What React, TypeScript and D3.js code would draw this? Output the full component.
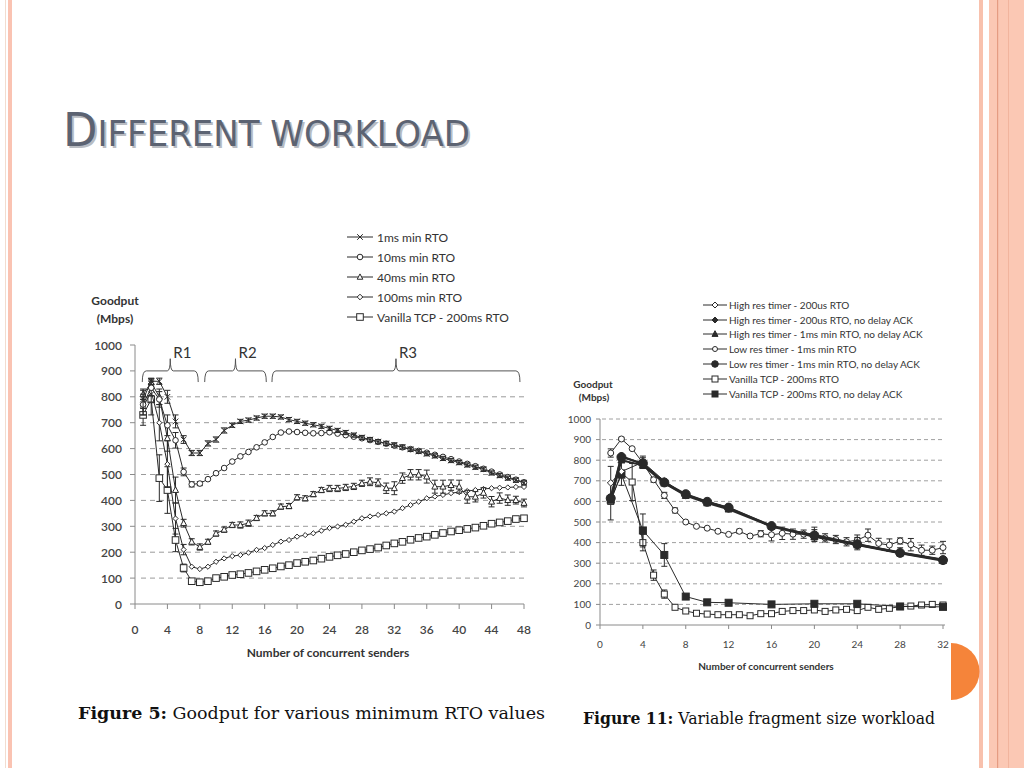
import React from "react";
import * as d3 from "d3";

// ---------------- Figure 5 (left) data ----------------
const fig5Senders = [1,2,3,4,5,6,7,8,9,10,11,12,13,14,15,16,17,18,19,20,21,22,23,24,25,26,27,28,29,30,31,32,33,34,35,36,37,38,39,40,41,42,43,44,45,46,47,48];
const fig5XTicks = [0,4,8,12,16,20,24,28,32,36,40,44,48];
const fig5YTicks = [0,100,200,300,400,500,600,700,800,900,1000];
const fig5Grid = [100,200,300,400,500,600,700,800];

const fig5Rto1ms = [790,860,860,800,705,635,583,583,620,635,670,690,705,710,718,725,725,722,712,705,698,692,686,678,670,662,652,643,635,627,620,614,606,597,589,580,572,562,554,546,537,528,520,506,496,486,478,468];
const fig5Rto10ms = [770,835,790,690,632,510,462,465,482,505,525,550,570,587,605,624,645,662,666,664,661,659,660,663,658,652,646,640,633,626,619,612,605,598,591,584,576,568,559,550,541,532,522,511,500,490,480,470];
const fig5Rto40ms = [810,855,800,640,440,312,240,220,240,272,287,305,305,312,332,350,350,376,378,412,408,424,440,446,446,450,454,466,472,468,447,447,486,499,499,492,453,453,459,453,414,414,429,395,409,401,401,390];
const fig5Rto100ms = [760,820,700,540,330,210,144,135,144,163,176,185,189,198,209,216,228,241,247,260,266,273,283,293,299,306,318,331,338,344,350,357,370,382,395,408,415,421,428,432,436,440,444,447,449,450,452,452];
const fig5Vanilla = [730,790,486,440,247,139,88,84,88,100,105,112,115,120,126,132,138,145,150,158,163,168,175,182,188,193,200,207,212,218,226,234,240,248,255,260,267,274,280,285,290,295,302,310,315,320,328,331];

const fig5Err1ms = [35,12,12,25,25,15,10,10,10,10,10,8,8,8,8,8,8,8,8,8,8,8,8,8,8,8,8,8,8,8,8,8,8,8,8,8,8,8,8,8,8,8,8,8,8,8,8,8];
const fig5Err40ms = [20,15,30,50,50,15,12,12,10,10,10,10,12,12,10,10,10,10,10,10,10,10,10,12,12,12,12,12,15,15,20,25,20,20,20,25,25,25,20,25,25,20,20,20,20,20,15,15];
const fig5Err10ms: [number, number][] = [[1,40],[2,30],[3,30],[4,40],[5,30],[6,15],[7,10],[8,8]];
const fig5Err100ms: [number, number][] = [[1,30],[2,40],[3,70],[4,90],[5,60],[6,20]];
const fig5ErrVanilla: [number, number][] = [[1,40],[2,60],[3,90],[4,90],[5,45],[6,15]];

const fig5Labels = ["1ms min RTO", "10ms min RTO", "40ms min RTO", "100ms min RTO", "Vanilla TCP - 200ms RTO"];
const fig5Regions = ["R1", "R2", "R3"];
const fig5RegionSpans: [number, number][] = [[0.9, 7.8], [8.6, 16.2], [16.9, 47.5]];

// ---------------- Figure 11 (right) data ----------------
const fig11SparseSenders = [1,2,4,6,8,10,12,16,20,24,28,32];
const fig11Senders = [1,2,3,4,5,6,7,8,9,10,11,12,13,14,15,16,17,18,19,20,21,22,23,24,25,26,27,28,29,30,31,32];
const fig11XTicks = [0,4,8,12,16,20,24,28,32];
const fig11YTicks = [0,100,200,300,400,500,600,700,800,900,1000];

const fig11HiRes200 = [690,745,790,700,630,600,570,475,440,395,355,320];
const fig11HiRes200NoDelay = [620,820,780,690,632,597,567,482,432,390,352,315];
const fig11HiRes1msNoDelay = [605,800,775,688,628,592,562,478,428,388,348,312];
const fig11LowRes1ms = [835,903,856,787,705,629,556,500,479,470,455,440,455,432,443,438,445,441,441,438,423,415,404,412,436,396,388,408,390,363,363,376];
const fig11LowRes1msNoDelay = [615,815,785,692,635,598,570,480,435,392,350,315];
const fig11Vanilla = [600,738,694,400,242,150,86,68,57,53,50,50,50,45,55,55,66,70,70,73,66,73,76,70,86,76,81,89,92,97,100,97];
const fig11VanillaNoDelay = [610,730,459,340,138,110,108,100,103,103,90,88];

const fig11ErrLowRes: [number, number][] = [[1,20],[2,8],[4,25],[5,12],[6,15],[7,12],[13,10],[15,15],[16,30],[17,30],[18,25],[19,20],[20,25],[21,20],[22,20],[23,20],[24,25],[25,30],[26,25],[27,30],[28,15],[29,30],[30,25],[31,20],[32,30]];
const fig11ErrVanilla: [number, number][] = [[1,90],[2,60],[3,90],[4,40],[5,25],[6,20]];
const fig11ErrVanillaND: [number, number][] = [[4,80],[6,55]];
const fig11ErrHiRes200: [number, number][] = [[1,80],[4,30],[20,35],[24,30],[28,20]];

const fig11Labels = [
  "High res timer - 200us RTO",
  "High res timer - 200us RTO, no delay ACK",
  "High res timer - 1ms min RTO, no delay ACK",
  "Low res timer - 1ms min RTO",
  "Low res timer - 1ms min RTO, no delay ACK",
  "Vanilla TCP - 200ms RTO",
  "Vanilla TCP - 200ms RTO, no delay ACK",
];

const INK = "#2a2a2a";
const FONT = "Lato, 'Open Sans', sans-serif";

type Shape = "x" | "circle" | "triangle" | "diamond" | "square";

function Marker({ shape, cx, cy, s, filled }: { shape: Shape; cx: number; cy: number; s: number; filled?: boolean }) {
  const fill = filled ? INK : "#fff";
  const sw = 1;
  switch (shape) {
    case "x":
      return <path d={`M${cx - s},${cy - s}L${cx + s},${cy + s}M${cx - s},${cy + s}L${cx + s},${cy - s}`} stroke={INK} strokeWidth={sw} fill="none" />;
    case "circle":
      return <circle cx={cx} cy={cy} r={s} fill={fill} stroke={INK} strokeWidth={sw} />;
    case "triangle":
      return <path d={`M${cx},${cy - s * 1.1}L${cx + s},${cy + s * 0.8}L${cx - s},${cy + s * 0.8}Z`} fill={fill} stroke={INK} strokeWidth={sw} />;
    case "diamond":
      return <path d={`M${cx},${cy - s}L${cx + s},${cy}L${cx},${cy + s}L${cx - s},${cy}Z`} fill={fill} stroke={INK} strokeWidth={sw} />;
    case "square":
    default:
      return <rect x={cx - s} y={cy - s} width={2 * s} height={2 * s} fill={fill} stroke={INK} strokeWidth={sw} />;
  }
}

function ErrBar({ x, y1, y2, w }: { x: number; y1: number; y2: number; w: number }) {
  return (
    <path d={`M${x},${y1}L${x},${y2}M${x - w},${y1}L${x + w},${y1}M${x - w},${y2}L${x + w},${y2}`} stroke={INK} strokeWidth={1} fill="none" />
  );
}

function Figure5() {
  const x = d3.scaleLinear().domain([0, 48]).range([135, 524]);
  const y = d3.scaleLinear().domain([0, 1000]).range([604, 345]);
  const series: { vals: number[]; shape: Shape; size: number; err: [number, number][] }[] = [
    { vals: fig5Vanilla, shape: "square", size: 3.3, err: fig5ErrVanilla },
    { vals: fig5Rto100ms, shape: "diamond", size: 2.6, err: fig5Err100ms },
    { vals: fig5Rto40ms, shape: "triangle", size: 3, err: fig5Err40ms.map((e, i) => [fig5Senders[i], e] as [number, number]) },
    { vals: fig5Rto10ms, shape: "circle", size: 2.8, err: fig5Err10ms },
    { vals: fig5Rto1ms, shape: "x", size: 2.8, err: fig5Err1ms.map((e, i) => [fig5Senders[i], e] as [number, number]) },
  ];
  const legendShapes: Shape[] = ["x", "circle", "triangle", "diamond", "square"];
  const line = d3.line<number>().x((_, i) => x(fig5Senders[i])).y((v) => y(v));
  const yTop = y(900);
  const yEnd = y(857);
  const yPeak = y(947);
  return (
    <g fontFamily={FONT}>
      {/* legend */}
      {fig5Labels.map((lab, i) => {
        const cy = 237 + i * 20;
        return (
          <g key={lab}>
            <line x1={347} x2={373} y1={cy} y2={cy} stroke={INK} />
            <Marker shape={legendShapes[i]} cx={360} cy={cy} s={legendShapes[i] === "square" ? 3.3 : 2.8} />
            <text x={377} y={cy + 4.5} fontSize={12} fill="#333">{lab}</text>
          </g>
        );
      })}
      {/* y title */}
      <text x={115} y={305} fontSize={12} fontWeight={700} textAnchor="middle" fill="#333">Goodput</text>
      <text x={115} y={323} fontSize={12} fontWeight={700} textAnchor="middle" fill="#333">(Mbps)</text>
      {/* grid */}
      {fig5Grid.map((g) => (
        <line key={g} x1={141} x2={524} y1={y(g)} y2={y(g)} stroke="#9a9a9a" strokeDasharray="5,4" strokeWidth={1} />
      ))}
      {/* axes */}
      <line x1={135} x2={135} y1={y(1000)} y2={y(0)} stroke="#8a8a8a" />
      <line x1={135} x2={524} y1={y(0)} y2={y(0)} stroke="#8a8a8a" />
      {fig5YTicks.map((t) => (
        <g key={t}>
          <line x1={130} x2={135} y1={y(t)} y2={y(t)} stroke="#8a8a8a" />
          <text x={122} y={y(t) + 4.5} fontSize={12} fontWeight={600} textAnchor="end" fill="#444">{t}</text>
        </g>
      ))}
      {fig5XTicks.map((t) => (
        <g key={t}>
          <line x1={x(t)} x2={x(t)} y1={y(0)} y2={y(0) + 5} stroke="#8a8a8a" />
          <text x={x(t)} y={634} fontSize={12} fontWeight={600} textAnchor="middle" fill="#444">{t}</text>
        </g>
      ))}
      <text x={328} y={657} fontSize={12} fontWeight={700} textAnchor="middle" fill="#333">Number of concurrent senders</text>
      {/* region brackets */}
      {fig5RegionSpans.map(([a, b], i) => {
        const x1 = x(a), x2 = x(b), xm = (x1 + x2) / 2;
        const d = `M${x1},${yEnd}Q${x1},${yTop} ${x1 + 4},${yTop}L${xm - 3},${yTop}Q${xm},${yTop} ${xm},${yPeak}Q${xm},${yTop} ${xm + 3},${yTop}L${x2 - 4},${yTop}Q${x2},${yTop} ${x2},${yEnd}`;
        return (
          <g key={i}>
            <path d={d} fill="none" stroke="#555" strokeWidth={1} />
            <text x={xm + 3} y={358} fontSize={15} fill="#333">{fig5Regions[i]}</text>
          </g>
        );
      })}
      {/* series */}
      {series.map((s, k) => (
        <g key={k}>
          <path d={line(s.vals) || ""} fill="none" stroke={INK} strokeWidth={1} />
          {s.err.map(([n, e]) => (
            <ErrBar key={n} x={x(n)} y1={y(s.vals[n - 1] - e)} y2={y(s.vals[n - 1] + e)} w={3} />
          ))}
          {s.vals.map((v, i) => (
            <Marker key={i} shape={s.shape} cx={x(fig5Senders[i])} cy={y(v)} s={s.size} />
          ))}
        </g>
      ))}
    </g>
  );
}

function Figure11() {
  const x = d3.scaleLinear().domain([0, 32]).range([600, 943]);
  const y = d3.scaleLinear().domain([0, 1000]).range([625, 419]);
  const series: { xs: number[]; vals: number[]; shape: Shape; size: number; filled: boolean; lw: number; err: [number, number][] }[] = [
    { xs: fig11Senders, vals: fig11Vanilla, shape: "square", size: 3, filled: false, lw: 1, err: fig11ErrVanilla },
    { xs: fig11SparseSenders, vals: fig11VanillaNoDelay, shape: "square", size: 3.5, filled: true, lw: 1, err: fig11ErrVanillaND },
    { xs: fig11Senders, vals: fig11LowRes1ms, shape: "circle", size: 3, filled: false, lw: 1, err: fig11ErrLowRes },
    { xs: fig11SparseSenders, vals: fig11HiRes200, shape: "diamond", size: 3.3, filled: false, lw: 1, err: fig11ErrHiRes200 },
    { xs: fig11SparseSenders, vals: fig11HiRes1msNoDelay, shape: "triangle", size: 3.5, filled: true, lw: 2, err: [] },
    { xs: fig11SparseSenders, vals: fig11HiRes200NoDelay, shape: "diamond", size: 4, filled: true, lw: 2, err: [] },
    { xs: fig11SparseSenders, vals: fig11LowRes1msNoDelay, shape: "circle", size: 4.5, filled: true, lw: 2, err: [] },
  ];
  const legend: { shape: Shape; filled: boolean; size: number }[] = [
    { shape: "diamond", filled: false, size: 3 },
    { shape: "diamond", filled: true, size: 3 },
    { shape: "triangle", filled: true, size: 3 },
    { shape: "circle", filled: false, size: 2.5 },
    { shape: "circle", filled: true, size: 3.3 },
    { shape: "square", filled: false, size: 3 },
    { shape: "square", filled: true, size: 3 },
  ];
  const rowY = [305, 320, 334, 349, 364, 379, 394];
  return (
    <g fontFamily={FONT}>
      {fig11Labels.map((lab, i) => (
        <g key={lab}>
          <line x1={703} x2={727} y1={rowY[i]} y2={rowY[i]} stroke={INK} />
          <Marker shape={legend[i].shape} cx={715} cy={rowY[i]} s={legend[i].size} filled={legend[i].filled} />
          <text x={729} y={rowY[i] + 3.5} fontSize={10} fill="#333">{lab}</text>
        </g>
      ))}
      <text x={593} y={388} fontSize={10} fontWeight={700} textAnchor="middle" fill="#333">Goodput</text>
      <text x={594} y={401} fontSize={10} fontWeight={700} textAnchor="middle" fill="#333">(Mbps)</text>
      {fig11YTicks.filter((t) => t > 0).map((g) => (
        <line key={g} x1={602} x2={945} y1={y(g)} y2={y(g)} stroke="#a0a0a0" strokeDasharray="4,3" />
      ))}
      <line x1={600} x2={600} y1={y(1000)} y2={y(0)} stroke="#8a8a8a" />
      <line x1={600} x2={945} y1={y(0)} y2={y(0)} stroke="#8a8a8a" />
      {fig11YTicks.map((t) => (
        <g key={t}>
          <line x1={596} x2={600} y1={y(t)} y2={y(t)} stroke="#8a8a8a" />
          <text x={591} y={y(t) + 3.5} fontSize={10} textAnchor="end" fill="#444">{t}</text>
        </g>
      ))}
      {fig11XTicks.map((t) => (
        <g key={t}>
          <line x1={x(t)} x2={x(t)} y1={y(0)} y2={y(0) + 4} stroke="#8a8a8a" />
          <text x={x(t)} y={648} fontSize={10} textAnchor="middle" fill="#444">{t}</text>
        </g>
      ))}
      <text x={766} y={670} fontSize={10} fontWeight={700} textAnchor="middle" fill="#333">Number of concurrent senders</text>
      {series.map((s, k) => {
        const line = d3.line<number>().x((_, i) => x(s.xs[i])).y((v) => y(v));
        return (
          <g key={k}>
            <path d={line(s.vals) || ""} fill="none" stroke={INK} strokeWidth={s.lw} />
            {s.err.map(([n, e]) => {
              const idx = s.xs.indexOf(n);
              return <ErrBar key={n} x={x(n)} y1={y(s.vals[idx] - e)} y2={y(s.vals[idx] + e)} w={3} />;
            })}
            {s.vals.map((v, i) => (
              <Marker key={i} shape={s.shape} cx={x(s.xs[i])} cy={y(v)} s={s.size} filled={s.filled} />
            ))}
          </g>
        );
      })}
    </g>
  );
}

export default function App() {
  const titleFont = "'Liberation Sans Narrow', 'DejaVu Sans Condensed', 'Liberation Sans', sans-serif";
  return (
    <svg width={1024} height={768} style={{ position: "absolute", left: 0, top: 0, background: "#fff" }}>
      <rect x={0} y={0} width={1024} height={768} fill="#fff" />
      {/* slide borders */}
      <rect x={5} y={0} width={1} height={768} fill="#f2dccf" />
      <rect x={8} y={0} width={4} height={768} fill="#fac3b2" />
      <rect x={979} y={0} width={4} height={768} fill="#f8c1ad" />
      <rect x={989} y={0} width={35} height={768} fill="#fbc8b4" />
      <rect x={997} y={0} width={1.2} height={768} fill="#e59c82" />
      <rect x={1008} y={0} width={1} height={768} fill="#f1b49d" />
      <path d="M951,643 A28,28 0 0 1 951,700 Z" fill="#f5843a" />
      {/* title */}
      <text x={65} y={148} fill="#b9bcc2" fontFamily={titleFont} textLength={407} lengthAdjust="spacingAndGlyphs">
        <tspan fontSize={46}>D</tspan><tspan fontSize={35}>IFFERENT WORKLOAD</tspan>
      </text>
      <text x={63} y={146} fill="#5c6372" fontFamily={titleFont} textLength={407} lengthAdjust="spacingAndGlyphs">
        <tspan fontSize={46}>D</tspan><tspan fontSize={35}>IFFERENT WORKLOAD</tspan>
      </text>
      <Figure5 />
      <Figure11 />
      {/* captions */}
      <text x={78} y={719} fontSize={16} fontFamily="'DejaVu Serif', 'Liberation Serif', serif" fill="#111" textLength={467} lengthAdjust="spacingAndGlyphs">
        <tspan fontWeight={700}>Figure 5:</tspan> Goodput for various minimum RTO values
      </text>
      <text x={583} y={724} fontSize={16} fontFamily="'DejaVu Serif', 'Liberation Serif', serif" fill="#111" textLength={352} lengthAdjust="spacingAndGlyphs">
        <tspan fontWeight={700}>Figure 11:</tspan> Variable fragment size workload
      </text>
    </svg>
  );
}
